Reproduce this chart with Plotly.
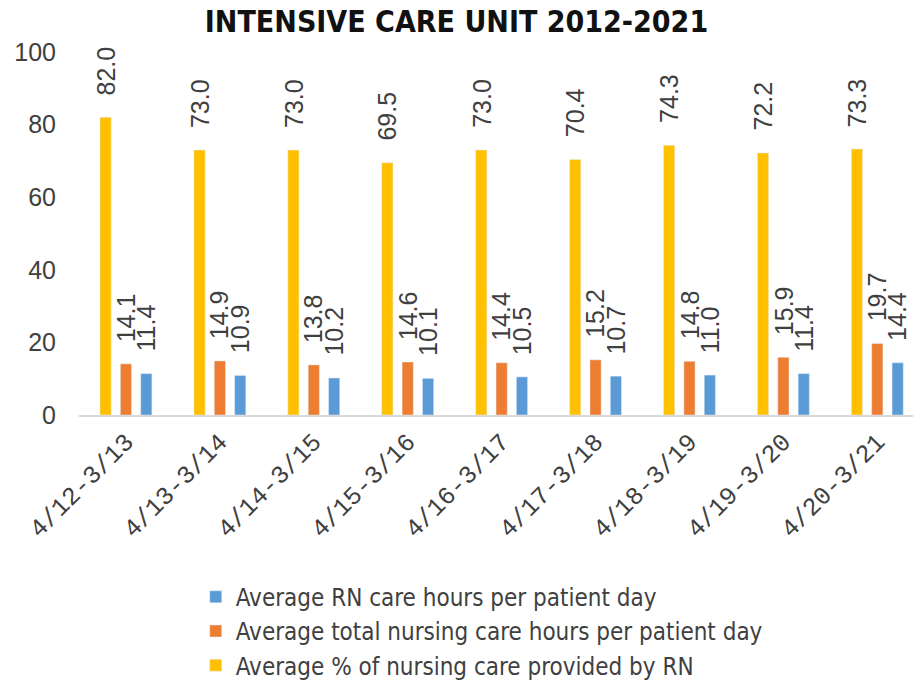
import plotly.graph_objects as go

categories = ["4/12-3/13", "4/13-3/14", "4/14-3/15", "4/15-3/16", "4/16-3/17",
              "4/17-3/18", "4/18-3/19", "4/19-3/20", "4/20-3/21"]
pct_rn = [82.0, 73.0, 73.0, 69.5, 73.0, 70.4, 74.3, 72.2, 73.3]
total_hours = [14.1, 14.9, 13.8, 14.6, 14.4, 15.2, 14.8, 15.9, 19.7]
rn_hours = [11.4, 10.9, 10.2, 10.1, 10.5, 10.7, 11.0, 11.4, 14.4]

names = ["Average % of nursing care provided by RN",
         "Average total nursing care hours per patient day",
         "Average RN care hours per patient day"]
colors = ["#FFC000", "#ED7D31", "#5B9BD5"]
series = [pct_rn, total_hours, rn_hours]
legend_ranks = [3, 2, 1]

LABEL_FONT = "Liberation Sans, Arial, sans-serif"
TICK_FONT = "Liberation Mono, DejaVu Sans Mono, monospace"
NARROW_FONT = "DejaVu Sans Condensed, Liberation Sans Narrow, Roboto, sans-serif"

BARGAP = 0.35
n_series = len(series)
slot = (1 - BARGAP) / n_series  # width of one bar slot in category units

fig = go.Figure()
annotations = []
for k, (nm, col, vals) in enumerate(zip(names, colors, series)):
    fig.add_trace(go.Bar(
        x=categories, y=vals, name=nm, marker_color=col,
        legendrank=legend_ranks[k],
    ))
    offset = (k - (n_series - 1) / 2) * slot
    for i, v in enumerate(vals):
        annotations.append(dict(
            x=i + offset, y=v, xref="x", yref="y",
            text=f"{v:.1f}", textangle=-90, showarrow=False,
            xanchor="center", yanchor="bottom", yshift=20,
            font=dict(family=LABEL_FONT, size=25, color="#404040"),
        ))

fig.update_layout(
    width=913, height=686,
    paper_bgcolor="white", plot_bgcolor="white",
    margin=dict(l=79, r=0, t=52, b=271, autoexpand=False),
    barmode="group", bargap=BARGAP, bargroupgap=0.45,
    title=dict(text="INTENSIVE CARE UNIT 2012-2021", x=0.5, xanchor="center",
               xref="container", y=0.968, yanchor="middle", yref="container",
               font=dict(family=NARROW_FONT, size=30, weight="bold", color="#111111")),
    xaxis=dict(range=[-0.5, 8.38], showline=True, linecolor="#D9D9D9", linewidth=2,
               tickangle=-45, ticks="", automargin=False,
               tickfont=dict(family=TICK_FONT, size=25, color="#404040"),
               showgrid=False),
    yaxis=dict(range=[0, 100], tickvals=[0, 20, 40, 60, 80, 100], showgrid=False,
               zeroline=False, showline=False, ticks="", ticklabelstandoff=22,
               automargin=False,
               tickfont=dict(family=LABEL_FONT, size=25, color="#404040")),
    legend=dict(x=0.140, xanchor="left", y=-0.44, yanchor="top",
                traceorder="normal", tracegroupgap=5,
                font=dict(family=NARROW_FONT, size=24, color="#404040"),
                itemwidth=30),
    annotations=annotations,
    showlegend=True,
)

fig.write_html("out.html", config={"displayModeBar": False},
               post_script="document.body.style.margin='0';document.body.style.overflow='hidden';")
